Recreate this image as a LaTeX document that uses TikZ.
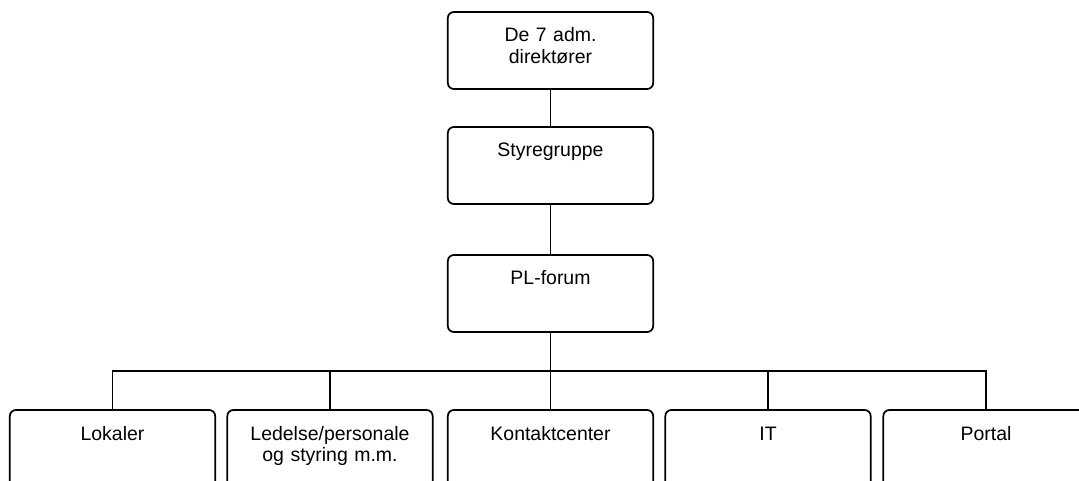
\documentclass[tikz,border=0pt]{standalone}
\usepackage{fontspec}
\setmainfont{Liberation Sans}
\usepackage{tikz}
\usetikzlibrary{positioning}

\begin{document}
\begin{tikzpicture}[x=0.75pt, y=-0.75pt, line width=1.3pt,
orgbox/.style={font=\fontsize{14.6}{16.2}\selectfont, draw, rounded corners=4.5pt, inner xsep=2pt, inner ysep=0pt, text width=150pt, align=center, text height=22.5pt, text depth=35.25pt}]
\useasboundingbox (0,0) rectangle (1079,481);
\clip (0,0) rectangle (1079,481);
%levels
\node[orgbox] (dir) at (550.5,50.5) {De 7 adm.\\direktører};
\node[orgbox] (styre) at (550.5,165.5) {Styregruppe};
\node[orgbox] (pl) at (550.5,293.5) {PL-forum};
\coordinate (bus) at (550.5,371);
\node[orgbox] (lok) at (112.5,448.5) {Lokaler};
\node[orgbox] (led) at (330,448.5) {Ledelse/personale\\og styring m.m.};
\node[orgbox] (kon) at (550.5,448.5) {Kontaktcenter};
\node[orgbox] (it) at (768,448.5) {IT};
\node[orgbox] (por) at (986,448.5) {Portal};
\draw (dir) -- (styre);
\draw (styre) -- (pl);
\draw (pl) -- (bus);
\draw (bus) -| (lok);
\draw (bus) -| (led);
\draw (bus) -- (kon);
\draw (bus) -| (it);
\draw (bus) -| (por);
\end{tikzpicture}
\end{document}
